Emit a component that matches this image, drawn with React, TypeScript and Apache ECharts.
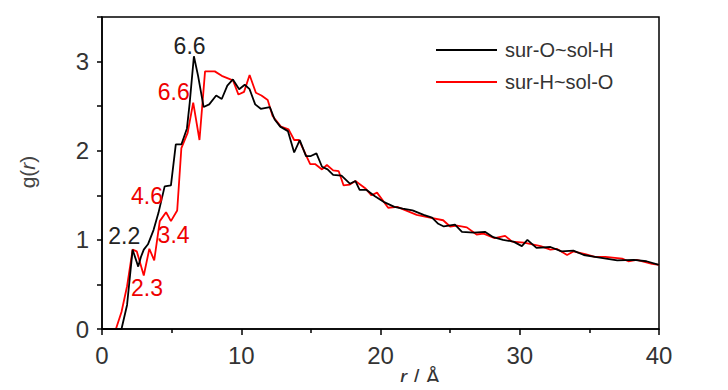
import React, { useEffect, useRef } from "react";
import * as echarts from "echarts";

// sur-O~sol-H (black)
const rOH = [0, 1.4, 1.8, 2.2, 2.6, 2.8, 3.0, 3.3, 3.7, 4.05, 4.5, 4.95, 5.3, 5.7, 6.1, 6.3, 6.6, 6.9, 7.3, 7.7, 8.2, 8.6, 9.0, 9.4, 9.85, 10.25, 10.6, 11.0, 11.4, 12.05, 12.4, 12.8, 13.35, 13.8, 14.2, 14.65, 15.0, 15.4, 15.8, 16.2, 16.6, 17.2, 17.8, 18.2, 18.5, 19.0, 19.6, 20.3, 21.0, 21.6, 22.3, 23.1, 23.7, 24.15, 24.55, 25.35, 25.85, 26.7, 27.5, 28.1, 28.8, 29.55, 30.15, 30.55, 31.2, 32.2, 33.0, 33.85, 34.6, 35.4, 37.0, 38.2, 39.1, 40];
const gOH = [0, 0, 0.27, 0.89, 0.70, 0.81, 0.89, 0.95, 1.11, 1.30, 1.60, 1.61, 2.07, 2.07, 2.25, 2.54, 3.06, 2.84, 2.49, 2.52, 2.62, 2.58, 2.73, 2.80, 2.69, 2.74, 2.69, 2.52, 2.47, 2.49, 2.35, 2.27, 2.22, 1.98, 2.12, 1.94, 1.94, 1.97, 1.82, 1.79, 1.73, 1.72, 1.63, 1.66, 1.56, 1.56, 1.49, 1.42, 1.37, 1.35, 1.33, 1.28, 1.25, 1.18, 1.15, 1.17, 1.09, 1.08, 1.09, 1.03, 1.00, 0.98, 0.93, 1.00, 0.91, 0.92, 0.87, 0.88, 0.83, 0.81, 0.77, 0.775, 0.76, 0.72];

// sur-H~sol-O (red)
const rHO = [0, 1.0, 1.4, 1.8, 2.2, 2.5, 3.0, 3.4, 3.75, 4.15, 4.6, 4.95, 5.4, 5.7, 6.15, 6.55, 7.0, 7.4, 8.1, 8.6, 9.4, 9.8, 10.2, 10.6, 11.05, 11.45, 11.9, 12.25, 12.85, 13.4, 13.8, 14.15, 14.95, 15.3, 15.8, 16.15, 16.6, 17.0, 17.35, 17.8, 18.2, 18.9, 19.35, 19.75, 20.55, 21.2, 22.6, 23.55, 24.5, 25.0, 25.5, 26.2, 26.9, 27.4, 28.2, 28.95, 29.45, 30.3, 31.5, 32.2, 32.65, 33.4, 33.85, 34.7, 35.4, 36.15, 37.35, 37.8, 38.4, 39.5, 40];
const gHO = [0, 0, 0.19, 0.48, 0.89, 0.87, 0.60, 0.90, 0.77, 1.21, 1.31, 1.21, 1.33, 2.03, 2.20, 2.54, 2.12, 2.89, 2.89, 2.84, 2.79, 2.63, 2.66, 2.85, 2.65, 2.62, 2.57, 2.39, 2.27, 2.24, 2.12, 2.12, 1.85, 1.85, 1.79, 1.84, 1.78, 1.77, 1.61, 1.62, 1.66, 1.58, 1.50, 1.53, 1.36, 1.37, 1.28, 1.25, 1.22, 1.15, 1.16, 1.14, 1.06, 1.07, 1.02, 1.045, 0.98, 0.97, 0.93, 0.89, 0.90, 0.83, 0.87, 0.84, 0.81, 0.81, 0.79, 0.76, 0.775, 0.73, 0.72];

const seriesNames = ["sur-O~sol-H", "sur-H~sol-O"];
const colors = ["#000000", "#ff0000"];

// peak annotations: [r, g, text]
const notesOH: [number, number, string][] = [
  [6.29, 3.17, "6.6"],
  [1.6, 1.04, "2.2"],
];
const notesHO: [number, number, string][] = [
  [5.15, 2.66, "6.6"],
  [3.23, 1.49, "4.6"],
  [5.14, 1.06, "3.4"],
  [3.23, 0.455, "2.3"],
];

const tickFont = "'Liberation Sans Narrow', 'Arial Narrow', 'Liberation Sans', Arial, sans-serif";
const textFont = "'Liberation Sans', Arial, sans-serif";

function zip(xs: number[], ys: number[]) {
  return xs.map((x, i) => [x, ys[i]]);
}

function notes(list: [number, number, string][], color: string) {
  return {
    symbol: "circle",
    symbolSize: 1,
    itemStyle: { color: "transparent" },
    silent: true,
    label: {
      show: true,
      position: "inside",
      color,
      fontSize: 23,
      fontFamily: textFont,
      formatter: (p: any) => p.name,
    },
    data: list.map(([x, y, t]) => ({ coord: [x, y], name: t })),
  };
}

export default function App() {
  const ref = useRef<HTMLDivElement>(null);
  useEffect(() => {
    if (!ref.current) return;
    const chart = echarts.init(ref.current, null, { renderer: "svg" });
    chart.setOption({
      animation: false,
      backgroundColor: "#ffffff",
      grid: {
        left: 102,
        right: 69,
        top: 17,
        bottom: 61,
        show: true,
        borderColor: "#000",
        borderWidth: 1.5,
        backgroundColor: "transparent",
      },
      legend: {
        orient: "vertical",
        left: 431,
        top: 34,
        itemWidth: 61,
        itemHeight: 2,
        itemGap: 10,
        icon: "rect",
        data: seriesNames,
        textStyle: {
          fontSize: 20,
          lineHeight: 22,
          color: "#333",
          fontFamily: textFont,
          padding: [0, 0, 0, 3],
        },
      },
      xAxis: {
        type: "value",
        min: 0,
        max: 40,
        interval: 10,
        axisLine: { show: true, lineStyle: { color: "#000", width: 1.5 } },
        axisTick: { show: true, length: 6, lineStyle: { color: "#000", width: 1.5 } },
        minorTick: { show: true, splitNumber: 2, length: 4, lineStyle: { color: "#000", width: 1.5 } },
        splitLine: { show: false },
        axisLabel: { fontSize: 24, color: "#333", fontFamily: tickFont, margin: 14 },
      },
      yAxis: {
        type: "value",
        min: 0,
        max: 3.5,
        interval: 0.5,
        axisLine: { show: true, lineStyle: { color: "#000", width: 1.5 } },
        axisTick: { show: true, length: 5, lineStyle: { color: "#000", width: 1.5 } },
        splitLine: { show: false },
        axisLabel: {
          fontSize: 24,
          color: "#333",
          fontFamily: tickFont,
          margin: 13,
          formatter: (v: number) => (Number.isInteger(v) ? String(v) : ""),
        },
      },
      graphic: [
        {
          type: "text",
          x: 27,
          y: 172,
          rotation: Math.PI / 2,
          style: {
            text: "g({i|r})",
            rich: { i: { fontStyle: "italic", fontSize: 21, fill: "#444", fontFamily: textFont } },
            fontSize: 21,
            fill: "#444",
            fontFamily: textFont,
            align: "center",
            verticalAlign: "middle",
          },
        },
        {
          type: "text",
          x: 420,
          y: 377,
          style: {
            text: "{i|r} / Å",
            rich: { i: { fontStyle: "italic", fontSize: 22, fill: "#333", fontFamily: textFont } },
            fontSize: 22,
            fill: "#333",
            fontFamily: textFont,
            align: "center",
            verticalAlign: "middle",
          },
        },
      ],
      series: [
        {
          name: seriesNames[0],
          type: "line",
          data: zip(rOH, gOH),
          showSymbol: false,
          color: colors[0],
          lineStyle: { color: colors[0], width: 1.8 },
          z: 3,
          markPoint: notes(notesOH, "#222"),
        },
        {
          name: seriesNames[1],
          type: "line",
          data: zip(rHO, gHO),
          showSymbol: false,
          color: colors[1],
          lineStyle: { color: colors[1], width: 1.8 },
          z: 2,
          markPoint: notes(notesHO, "#ee0000"),
        },
      ],
    });
    return () => chart.dispose();
  }, []);
  return <div ref={ref} style={{ width: 728, height: 390, margin: -8 }} />;
}
